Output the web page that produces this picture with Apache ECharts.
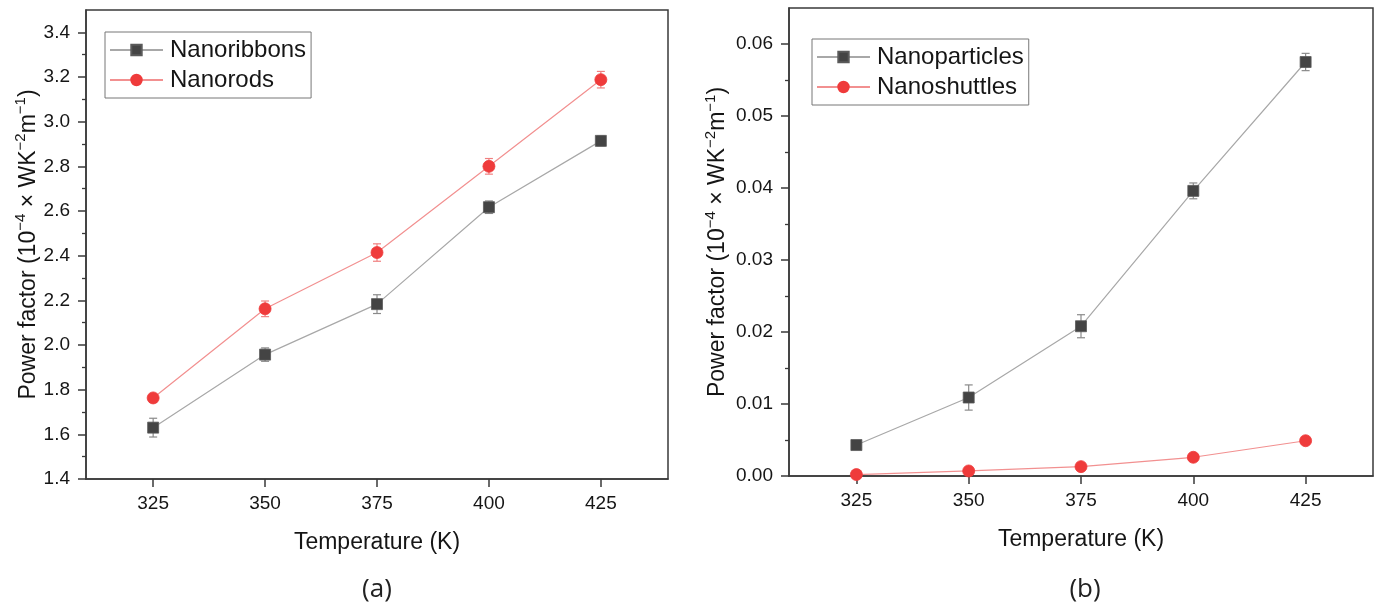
<!DOCTYPE html>
<html><head><meta charset="utf-8">
<script src="https://cdn.jsdelivr.net/npm/echarts@6/dist/echarts.min.js"></script>
<style>html,body{margin:0;padding:0;background:#fff}#c{width:1379px;height:610px}</style>
</head><body><div id="c"></div>
<script>
// ---- data ----
const temps = [325, 350, 375, 400, 425];
const xTickLabels = [325, 350, 375, 400, 425];
const leftYTicks = [1.4, 1.6, 1.8, 2.0, 2.2, 2.4, 2.6, 2.8, 3.0, 3.2, 3.4];
const rightYTicks = [0, 0.01, 0.02, 0.03, 0.04, 0.05, 0.06];

const nanoribbons = [1.63, 1.957, 2.183, 2.617, 2.914];
const nanoribbonsErr = [0.042, 0.03, 0.042, 0.028, 0.022];
const nanorods = [1.763, 2.162, 2.414, 2.80, 3.188];
const nanorodsErr = [0.015, 0.035, 0.039, 0.035, 0.037];

const nanoparticles = [0.0043, 0.0109, 0.0208, 0.0396, 0.0575];
const nanoparticlesErr = [0.0004, 0.00175, 0.0016, 0.0011, 0.0012];
const nanoshuttles = [0.0002, 0.0007, 0.0013, 0.0026, 0.0049];
const nanoshuttlesErr = [0.0001, 0.0001, 0.0001, 0.0001, 0.0001];

// ---- styling helpers ----
const FONT = "'Liberation Sans', Arial, sans-serif";
const AXC = '#3a3a3a';
const TXT = '#151515';
const GRAY_LINE = '#a8a8a8', GRAY_MK = '#444444', GRAY_ERR = '#8a8a8a';
const RED_LINE = '#f29090', RED_MK = '#ef3b3b', RED_ERR = '#f08080';

function minorBetween(ticks) {
  const out = [];
  for (let i = 0; i < ticks.length - 1; i++) out.push(+((ticks[i] + ticks[i + 1]) / 2).toFixed(6));
  return out;
}

const yName = '{a|Power factor (10}{s|−4}{a| × WK}{s|−2}{a|m}{s|−1}{a|)}';
const yNameRich = {
  a: { fontSize: 23, fontFamily: FONT, color: TXT, lineHeight: 29 },
  s: { fontSize: 15, fontFamily: FONT, color: TXT, verticalAlign: 'top', lineHeight: 15 }
};

function xAxisCfg(gi) {
  return {
    type: 'value', gridIndex: gi, min: 310, max: 440,
    name: 'Temperature (K)', nameLocation: 'middle', nameGap: 52,
    nameTextStyle: { fontSize: 23, fontFamily: FONT, color: TXT },
    axisLine: { show: true, lineStyle: { color: AXC, width: 1.5 } },
    axisTick: { show: true, length: 8, lineStyle: { color: AXC, width: 1.5 }, customValues: xTickLabels },
    axisLabel: { fontSize: 19, fontFamily: FONT, color: TXT, margin: 15, customValues: xTickLabels },
    splitLine: { show: false }
  };
}
function yAxisCfg(gi, min, max, ticks, gap, dec) {
  return {
    type: 'value', gridIndex: gi, min: min, max: max,
    name: yName, nameLocation: 'middle', nameGap: gap,
    nameTextStyle: { rich: yNameRich },
    axisLine: { show: true, lineStyle: { color: AXC, width: 1.5 } },
    axisTick: { show: true, length: 8, lineStyle: { color: AXC, width: 1.5 }, customValues: ticks },
    axisLabel: { fontSize: 19, fontFamily: FONT, color: TXT, margin: 16, customValues: ticks,
      formatter: v => v.toFixed(dec) },
    splitLine: { show: false }
  };
}
function yMinorCfg(gi, min, max, ticks) {
  return {
    type: 'value', gridIndex: gi, min: min, max: max, position: 'left',
    axisLine: { show: false },
    axisTick: { show: true, length: 4, lineStyle: { color: AXC, width: 1.3 }, customValues: minorBetween(ticks) },
    axisLabel: { show: false }, splitLine: { show: false }
  };
}

function errData(vals, errs) {
  return temps.map((t, i) => [t, vals[i] - errs[i], vals[i] + errs[i]]);
}
function errSeries(name, xi, yi, vals, errs, color) {
  return {
    type: 'custom', name: name, xAxisIndex: xi, yAxisIndex: yi, z: 1, silent: true,
    data: errData(vals, errs),
    renderItem: function (params, api) {
      const x = api.value(0), lo = api.value(1), hi = api.value(2);
      const p1 = api.coord([x, lo]), p2 = api.coord([x, hi]);
      const w = 4;
      const st = { stroke: color, lineWidth: 1.2 };
      return { type: 'group', children: [
        { type: 'line', shape: { x1: p1[0], y1: p1[1], x2: p2[0], y2: p2[1] }, style: st },
        { type: 'line', shape: { x1: p1[0] - w, y1: p1[1], x2: p1[0] + w, y2: p1[1] }, style: st },
        { type: 'line', shape: { x1: p2[0] - w, y1: p2[1], x2: p2[0] + w, y2: p2[1] }, style: st }
      ]};
    }
  };
}
function lineSeries(name, xi, yi, vals, sq) {
  return {
    type: 'line', name: name, xAxisIndex: xi, yAxisIndex: yi, z: 3,
    data: temps.map((t, i) => [t, vals[i]]),
    symbol: sq ? 'rect' : 'circle', symbolSize: sq ? 11 : 12,
    itemStyle: { color: sq ? GRAY_MK : RED_MK, borderColor: sq ? '#5a5a5a' : RED_MK, borderWidth: 0.8 },
    lineStyle: { color: sq ? GRAY_LINE : RED_LINE, width: 1.2 }
  };
}
function legendCfg(names, left, top) {
  return {
    data: names, orient: 'vertical', left: left, top: top,
    borderColor: '#777', borderWidth: 1, borderRadius: 0,
    padding: [6, 5, 6, 4], itemGap: 6, itemWidth: 53, itemHeight: 13,
    textStyle: { fontSize: 24, fontFamily: FONT, color: TXT, padding: [0, 0, 0, 2] },
    selectedMode: false
  };
}

const option = {
  animation: false,
  backgroundColor: '#fff',
  grid: [
    { left: 86, right: 711, top: 10, bottom: 131, show: true, borderColor: AXC, borderWidth: 1.5, backgroundColor: 'transparent' },
    { left: 789, right: 6, top: 8, bottom: 134, show: true, borderColor: AXC, borderWidth: 1.5, backgroundColor: 'transparent' }
  ],
  xAxis: [xAxisCfg(0), xAxisCfg(1)],
  yAxis: [
    yAxisCfg(0, 1.4, 3.5, leftYTicks, 42, 1),
    yAxisCfg(1, 0, 0.065, rightYTicks, 57, 2),
    yMinorCfg(0, 1.4, 3.5, leftYTicks),
    yMinorCfg(1, 0, 0.065, rightYTicks)
  ],
  legend: [
    legendCfg(['Nanoribbons', 'Nanorods'], 105, 32),
    legendCfg(['Nanoparticles', 'Nanoshuttles'], 812, 39)
  ],
  title: [
    { text: '(a)', left: 372, top: 572, textAlign: 'center', textStyle: { fontSize: 26, fontWeight: 'normal', fontFamily: 'Open Sans', color: '#222' } },
    { text: '(b)', left: 1080, top: 572, textAlign: 'center', textStyle: { fontSize: 26, fontWeight: 'normal', fontFamily: 'Open Sans', color: '#222' } }
  ],
  series: [
    errSeries('err1', 0, 0, nanoribbons, nanoribbonsErr, GRAY_ERR),
    errSeries('err2', 0, 0, nanorods, nanorodsErr, RED_ERR),
    lineSeries('Nanoribbons', 0, 0, nanoribbons, true),
    lineSeries('Nanorods', 0, 0, nanorods, false),
    errSeries('err3', 1, 1, nanoparticles, nanoparticlesErr, GRAY_ERR),
    errSeries('err4', 1, 1, nanoshuttles, nanoshuttlesErr, RED_ERR),
    lineSeries('Nanoparticles', 1, 1, nanoparticles, true),
    lineSeries('Nanoshuttles', 1, 1, nanoshuttles, false)
  ]
};
const chart = echarts.init(document.getElementById('c'), null, { renderer: 'canvas' });
chart.setOption(option);
</script>
</body></html>
